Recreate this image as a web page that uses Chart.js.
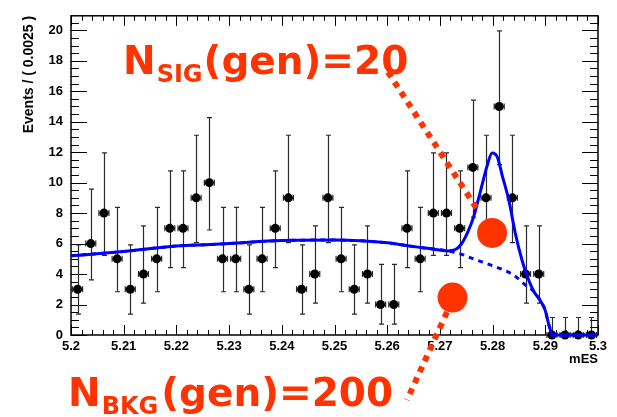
<!DOCTYPE html>
<html><head><meta charset="utf-8">
<script src="https://cdn.jsdelivr.net/npm/chart.js@4/dist/chart.umd.min.js"></script>
<style>html,body{margin:0;padding:0;background:#fff}#wrap{width:617px;height:417px}</style>
</head><body><div id="wrap"><canvas id="c" width="617" height="417"></canvas></div>
<script>
// ---- data ----
const binCenters = [5.20125,5.20375,5.20625,5.20875,5.21125,5.21375,5.21625,5.21875,5.22125,5.22375,
  5.22625,5.22875,5.23125,5.23375,5.23625,5.23875,5.24125,5.24375,5.24625,5.24875,
  5.25125,5.25375,5.25625,5.25875,5.26125,5.26375,5.26625,5.26875,5.27125,5.27375,
  5.27625,5.27875,5.28125,5.28375,5.28625,5.28875,5.29125,5.29375,5.29625,5.29875];
const counts = [3,6,8,5,3,4,5,7,7,9, 10,5,5,3,5,7,9,3,4,9, 5,3,4,2,2,7,5,8,8,7, 11,9,15,9,4,4,0,0,0,0];
const errLow = [1.37,3.62,5.23,2.84,1.37,2.09,2.84,4.42,4.42,6.06, 6.89,2.84,2.84,1.37,2.84,4.42,6.06,1.37,2.09,6.06,
  2.84,1.37,2.09,0.71,0.71,4.42,2.84,5.23,5.23,4.42, 7.73,6.06,11.18,6.06,2.09,2.09,0,0,0,0];
const errHigh = [5.92,9.58,11.95,8.38,5.92,7.16,8.38,10.77,10.77,13.11, 14.27,8.38,8.38,5.92,8.38,10.77,13.11,5.92,7.16,13.11,
  8.38,5.92,7.16,4.64,4.64,10.77,8.38,11.95,11.95,10.77, 15.42,13.11,19.96,13.11,7.16,7.16,1.15,1.15,1.15,1.15];

const bkgX = [5.2,5.21,5.22,5.2265,5.23,5.24,5.25,5.255,5.26,5.265,5.268,5.2715,5.274,5.2764,5.279,5.2815,5.284,5.2862,5.2878,5.2891,5.29,5.2905,5.291,5.2913,5.3];
const bkgY = [5.2,5.48,5.84,5.94,6.0,6.2,6.23,6.18,6.05,5.8,5.67,5.52,5.31,4.99,4.67,4.35,3.93,3.29,2.87,2.23,1.6,0.9,0.3,0,0];

const totX = [5.2,5.21,5.22,5.2265,5.23,5.24,5.25,5.255,5.26,5.265,5.268,5.2715,5.2728,5.274,5.2752,5.2764,5.2777,5.279,5.2799,5.2809,5.2818,5.2831,5.2843,5.2856,5.2866,5.2878,5.2891,5.29,5.2905,5.291,5.2913,5.3];
const totY = [5.2,5.48,5.84,5.94,6.0,6.2,6.23,6.18,6.05,5.8,5.67,5.52,5.58,5.94,6.69,7.75,9.45,11.15,11.95,11.68,10.5,8.81,6.69,4.89,3.82,2.87,2.23,1.6,0.9,0.3,0,0];

const xTickValues = [5.2,5.21,5.22,5.23,5.24,5.25,5.26,5.27,5.28,5.29,5.3];
const xTickLabels = ['5.2','5.21','5.22','5.23','5.24','5.25','5.26','5.27','5.28','5.29','5.3'];
const yTickValues = [0,2,4,6,8,10,12,14,16,18,20];
const yTickLabels = ['0','2','4','6','8','10','12','14','16','18','20'];

const sigLabel = ['N','SIG','(gen)=20'];
const bkgLabel = ['N','BKG','(gen)=200'];
const sigMarker = [5.2799, 6.7];
const bkgMarker = [5.2724, 2.46];

// ---- drawing ----
const ANN = '#ff3300';
const tickFont = {family:'Liberation Sans', weight:'bold', size:13};

const framePlugin = {
  id:'frame',
  beforeDatasetsDraw(chart){
    const {ctx, chartArea:a, scales:{x,y}} = chart;
    ctx.save();
    ctx.strokeStyle='#000'; ctx.lineWidth=1;
    ctx.beginPath();
    for (let k=0;k<=50;k++){
      const px = Math.round(x.getPixelForValue(5.2 + k*0.002)) + 0.5;
      const L = (k%5===0) ? 10 : 5;
      ctx.moveTo(px,a.bottom); ctx.lineTo(px,a.bottom-L);
      ctx.moveTo(px,a.top); ctx.lineTo(px,a.top+L);
    }
    for (let k=0;k*0.5<=y.max;k++){
      const py = Math.round(y.getPixelForValue(k*0.5)) + 0.5;
      const L = (k%4===0) ? 16 : 8;
      ctx.moveTo(a.left,py); ctx.lineTo(a.left+L,py);
      ctx.moveTo(a.right,py); ctx.lineTo(a.right-L,py);
    }
    ctx.stroke();
    ctx.lineWidth=1.5;
    ctx.strokeRect(a.left,a.top,a.right-a.left,a.bottom-a.top);
    // error bars
    ctx.strokeStyle='#2a2a2a'; ctx.lineWidth=1.2;
    binCenters.forEach((c,i)=>{
      const px = Math.round(x.getPixelForValue(c))+0.5;
      const py = y.getPixelForValue(counts[i]);
      const yl = y.getPixelForValue(errLow[i]), yh = y.getPixelForValue(errHigh[i]);
      const xl = x.getPixelForValue(c-0.00095), xr = x.getPixelForValue(c+0.00095);
      ctx.beginPath();
      ctx.moveTo(px,yl); ctx.lineTo(px,yh);
      ctx.moveTo(px-2.5,yh); ctx.lineTo(px+2.5,yh);
      ctx.moveTo(px-2.5,yl); ctx.lineTo(px+2.5,yl);
      ctx.moveTo(xl,py); ctx.lineTo(xr,py);
      ctx.moveTo(xl,py-3); ctx.lineTo(xl,py+3);
      ctx.moveTo(xr,py-3); ctx.lineTo(xr,py+3);
      ctx.stroke();
    });
    ctx.restore();
  }
};

function drawLabel(ctx, parts, x0, base, subBase, gap){
  const big = 'bold 39px "DejaVu Sans"', small = 'bold 24px "DejaVu Sans"';
  let xx = x0;
  ctx.font = big; ctx.fillText(parts[0], xx, base); xx += ctx.measureText(parts[0]).width + 1;
  ctx.font = small; ctx.fillText(parts[1], xx, subBase); xx += ctx.measureText(parts[1]).width + gap;
  ctx.font = big; ctx.fillText(parts[2], xx, base);
}

const annPlugin = {
  id:'ann',
  afterDraw(chart){
    const {ctx, scales:{x,y}} = chart;
    ctx.save();
    ctx.fillStyle = ANN; ctx.strokeStyle = ANN;
    ctx.setLineDash([6,6]); ctx.lineWidth = 6; ctx.lineCap='butt';
    ctx.beginPath(); ctx.moveTo(388,72); ctx.lineTo(479,212); ctx.stroke();
    ctx.beginPath(); ctx.moveTo(447,312); ctx.lineTo(407,400); ctx.stroke();
    ctx.setLineDash([]);
    [sigMarker,bkgMarker].forEach(m=>{
      ctx.beginPath();
      ctx.arc(x.getPixelForValue(m[0]), y.getPixelForValue(m[1]), 15, 0, Math.PI*2);
      ctx.fill();
    });
    ctx.textBaseline='alphabetic'; ctx.textAlign='left';
    drawLabel(ctx, sigLabel, 123, 74, 82, 1);
    drawLabel(ctx, bkgLabel, 68, 406, 414, 3);
    ctx.restore();
  }
};

new Chart(document.getElementById('c'), {
  type:'scatter',
  data:{datasets:[
    {label:'total', data: totX.map((v,i)=>({x:v,y:totY[i]})), showLine:true, borderColor:'#0000ff', borderWidth:3,
     pointRadius:0, cubicInterpolationMode:'monotone', order:0, clip:false},
    {label:'bkg', data: bkgX.map((v,i)=>({x:v,y:bkgY[i]})), showLine:true, borderColor:'#0000ff', borderWidth:3,
     borderDash:[5,5], pointRadius:0, cubicInterpolationMode:'monotone', order:1, clip:false},
    {label:'data', data: binCenters.map((v,i)=>({x:v,y:counts[i]})), pointRadius:4.5, pointBackgroundColor:'#000',
     pointBorderColor:'#000', pointBorderWidth:0, order:2, clip:false}
  ]},
  options:{
    responsive:false, animation:false, devicePixelRatio:1,
    layout:{padding:{top:6,right:19,bottom:51,left:0}},
    plugins:{legend:{display:false}, tooltip:{enabled:false}},
    scales:{
      x:{type:'linear', min:5.2, max:5.3,
        grid:{display:false, drawTicks:false}, border:{display:false},
        afterBuildTicks(s){ s.ticks = xTickValues.map(v=>({value:v})); },
        afterFit(s){ s.height = 31; },
        ticks:{callback:(v,i)=>xTickLabels[i], font:tickFont, color:'#000', padding:4, maxRotation:0, autoSkip:false},
        title:{display:true, text:'mES', align:'end', font:tickFont, color:'#000', padding:{top:0,bottom:-1}}
      },
      y:{type:'linear', min:0, max:20.95,
        grid:{display:false, drawTicks:false}, border:{display:false},
        afterBuildTicks(s){ s.ticks = yTickValues.map(v=>({value:v})); },
        afterFit(s){ s.width = 71; },
        ticks:{callback:(v,i)=>yTickLabels[i], font:tickFont, color:'#000', padding:8, autoSkip:false},
        title:{display:true, text:'Events / ( 0.0025 )', align:'end', font:{family:'Liberation Sans', weight:'bold', size:14}, color:'#000', padding:{top:21,bottom:0}}
      }
    }
  },
  plugins:[framePlugin, annPlugin]
});
</script></body></html>
